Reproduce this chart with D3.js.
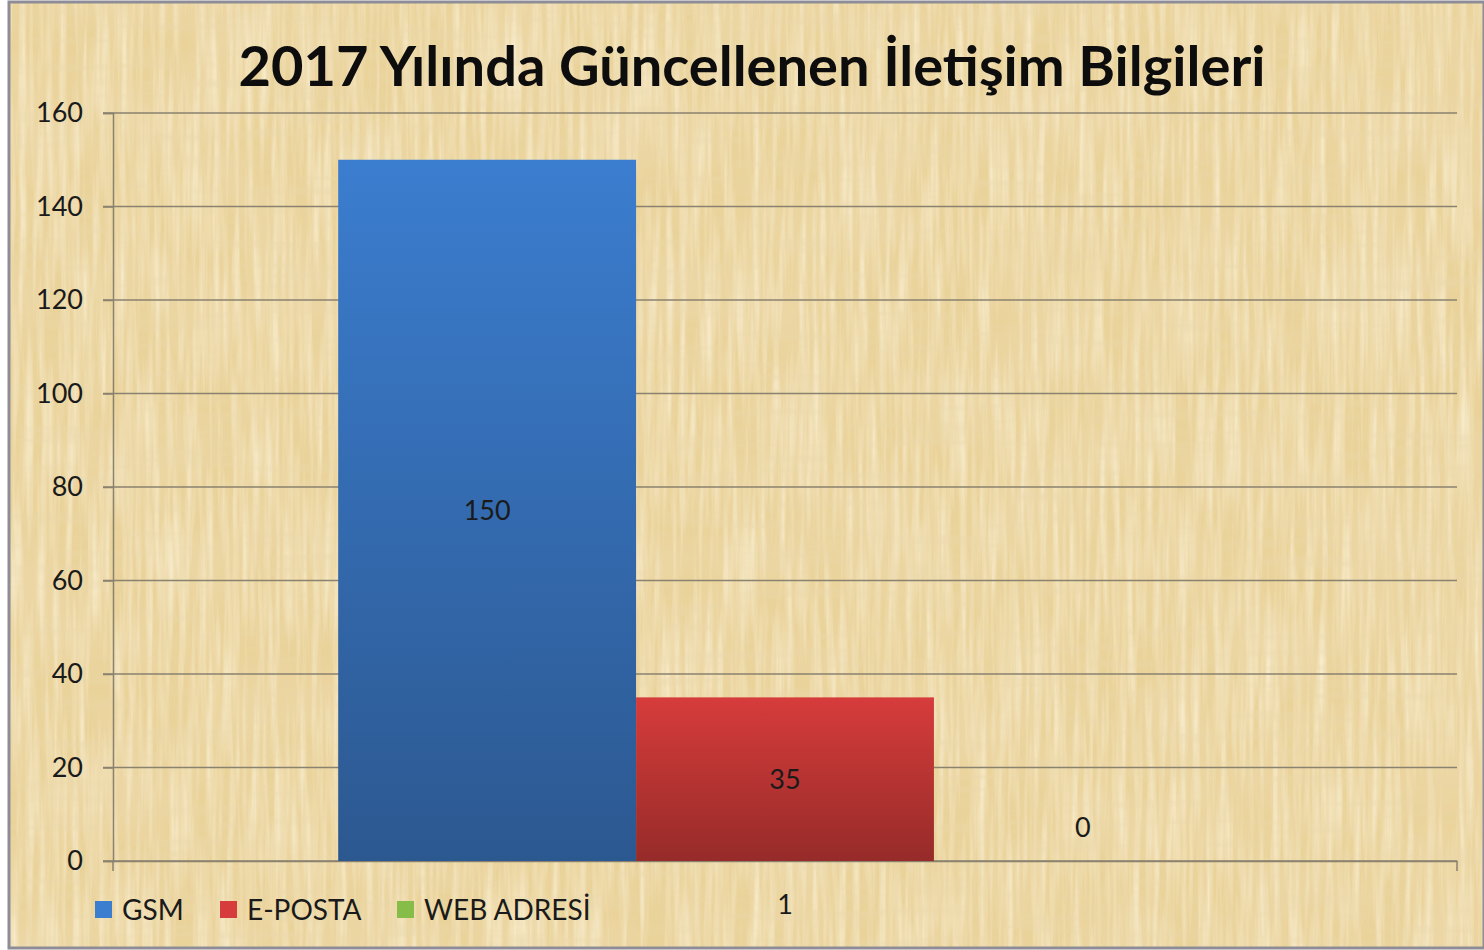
<!DOCTYPE html>
<html>
<head>
<meta charset="utf-8">
<script src="https://cdn.jsdelivr.net/npm/d3@7"></script>
<style>
  body { margin: 0; background: #fff; }
  svg text { font-family: Lato, "Open Sans", sans-serif; }
</style>
</head>
<body>
<svg id="chart" width="1484" height="950"></svg>
<script>
// veriler
const categories = ["1"];
const seriesNames = ["GSM", "E-POSTA", "WEB ADRESİ"];
const seriesValues = [150, 35, 0];
const yTicks = [0, 20, 40, 60, 80, 100, 120, 140, 160];
const title = "2017 Yılında Güncellenen İletişim Bilgileri";

const colors = [
    { top: "#3b7dcf", bottom: "#2c5890" },
    { top: "#d63c3b", bottom: "#962b29" },
    { top: "#86bd48", bottom: "#5e8d2e" }
];

const svg = d3.select("#chart");
const margin = { left: 113, right: 27, top: 113, bottom: 89 };
const W = 1484, H = 950;

// arka plan (papirus dokusu)
const defs = svg.append("defs");
const f = defs.append("filter").attr("id", "paper")
    .attr("x", 0).attr("y", 0).attr("width", "100%").attr("height", "100%");
f.append("feTurbulence").attr("type", "fractalNoise")
    .attr("baseFrequency", "0.15 0.008").attr("numOctaves", 3).attr("seed", 4).attr("result", "n1");
f.append("feColorMatrix").attr("in", "n1").attr("type", "matrix")
    .attr("values", "0 0 0 0 0.98  0 0 0 0 0.91  0 0 0 0 0.70  1.3 0 0 0 -0.5")
    .attr("result", "c1");
f.append("feTurbulence").attr("type", "fractalNoise")
    .attr("baseFrequency", "0.008 0.1").attr("numOctaves", 3).attr("seed", 9).attr("result", "n2");
f.append("feColorMatrix").attr("in", "n2").attr("type", "matrix")
    .attr("values", "0 0 0 0 0.82  0 0 0 0 0.68  0 0 0 0 0.40  1.2 0 0 0 -0.55")
    .attr("result", "c2");
f.append("feTurbulence").attr("type", "fractalNoise")
    .attr("baseFrequency", "0.012 0.012").attr("numOctaves", 2).attr("seed", 2).attr("result", "n3");
f.append("feColorMatrix").attr("in", "n3").attr("type", "matrix")
    .attr("values", "0 0 0 0 0.85  0 0 0 0 0.70  0 0 0 0 0.42  1.5 0 0 0 -0.7")
    .attr("result", "c3");
f.append("feMerge").selectAll("feMergeNode")
    .data(["SourceGraphic", "c3", "c1", "c2"]).join("feMergeNode").attr("in", d => d);

svg.append("rect").attr("x", 9).attr("y", 2).attr("width", W - 9).attr("height", H - 4)
    .attr("fill", "#ead39b").attr("filter", "url(#paper)");
svg.append("rect").attr("x", 9).attr("y", 2).attr("width", W - 9).attr("height", H - 4)
    .attr("fill", "none").attr("stroke", "#8e8c96").attr("stroke-width", 3);

colors.forEach((c, i) => {
    const g = defs.append("linearGradient").attr("id", "grad" + i)
        .attr("x1", 0).attr("y1", 0).attr("x2", 0).attr("y2", 1);
    g.append("stop").attr("offset", "0%").attr("stop-color", c.top);
    g.append("stop").attr("offset", "100%").attr("stop-color", c.bottom);
});

const x0 = d3.scaleBand().domain(categories)
    .range([margin.left, W - margin.right]).paddingOuter(0.252).paddingInner(0);
const x1 = d3.scaleBand().domain(seriesNames).range([0, x0.bandwidth()]);
const y = d3.scaleLinear().domain([0, 160]).range([H - margin.bottom, margin.top]);

// izgara çizgileri
svg.append("g").selectAll("line").data(yTicks).join("line")
    .attr("x1", margin.left - 10).attr("x2", W - margin.right)
    .attr("y1", d => y(d)).attr("y2", d => y(d))
    .attr("stroke", "#8a826f").attr("stroke-width", 1.5);

// y ekseni
const yAxis = svg.append("g").attr("transform", `translate(${margin.left},0)`)
    .call(d3.axisLeft(y).tickValues(yTicks).tickSize(10).tickPadding(20));
yAxis.select(".domain").attr("stroke", "#8a826f").attr("stroke-width", 1.5);
yAxis.selectAll(".tick line").attr("stroke", "#8a826f").attr("stroke-width", 1.5);
yAxis.selectAll(".tick text").attr("font-size", 27).attr("fill", "#1a1a1a")
    .style("font-family", "Lato, sans-serif");

// x ekseni
const xAxis = svg.append("g").attr("transform", `translate(0,${y(0)})`)
    .call(d3.axisBottom(x0).tickSize(0).tickPadding(34));
xAxis.select(".domain").attr("stroke", "#8a826f").attr("stroke-width", 1.5);
xAxis.selectAll(".tick text").attr("font-size", 27).attr("fill", "#1a1a1a")
    .style("font-family", "Lato, sans-serif");
svg.append("g").selectAll("line").data([margin.left, W - margin.right]).join("line")
    .attr("x1", d => d).attr("x2", d => d)
    .attr("y1", y(0)).attr("y2", y(0) + 10)
    .attr("stroke", "#8a826f").attr("stroke-width", 1.5);

// çubuklar
const barData = seriesNames.map((s, i) => ({ s, i, v: seriesValues[i] }));
const bars = svg.append("g").selectAll("g").data(categories).join("g")
    .attr("transform", d => `translate(${x0(d)},0)`);
bars.selectAll("rect").data(barData).join("rect")
    .attr("x", d => x1(d.s)).attr("width", x1.bandwidth())
    .attr("y", d => y(d.v)).attr("height", d => y(0) - y(d.v))
    .attr("fill", d => `url(#grad${d.i})`);
bars.selectAll("text").data(barData).join("text")
    .attr("x", d => x1(d.s) + x1.bandwidth() / 2)
    .attr("y", d => d.v > 0 ? (y(d.v) + y(0)) / 2 + 10 : y(0) - 24)
    .attr("text-anchor", "middle").attr("font-size", 27).attr("fill", "#1a1a1a")
    .text(d => d.v);

// başlık
svg.append("text").attr("x", 752).attr("y", 86).attr("text-anchor", "middle")
    .attr("font-size", 56).attr("font-weight", "bold").attr("fill", "#0d0d0d")
    .text(title);

// gösterge
const legendX = [95, 220, 397];
const leg = svg.append("g").selectAll("g").data(seriesNames).join("g")
    .attr("transform", (d, i) => `translate(${legendX[i]},901)`);
leg.append("rect").attr("width", 17).attr("height", 17).attr("fill", (d, i) => colors[i].top);
leg.append("text").attr("x", 27).attr("y", 19).attr("font-size", 28).attr("fill", "#1a1a1a")
    .text(d => d);
</script>
</body>
</html>
